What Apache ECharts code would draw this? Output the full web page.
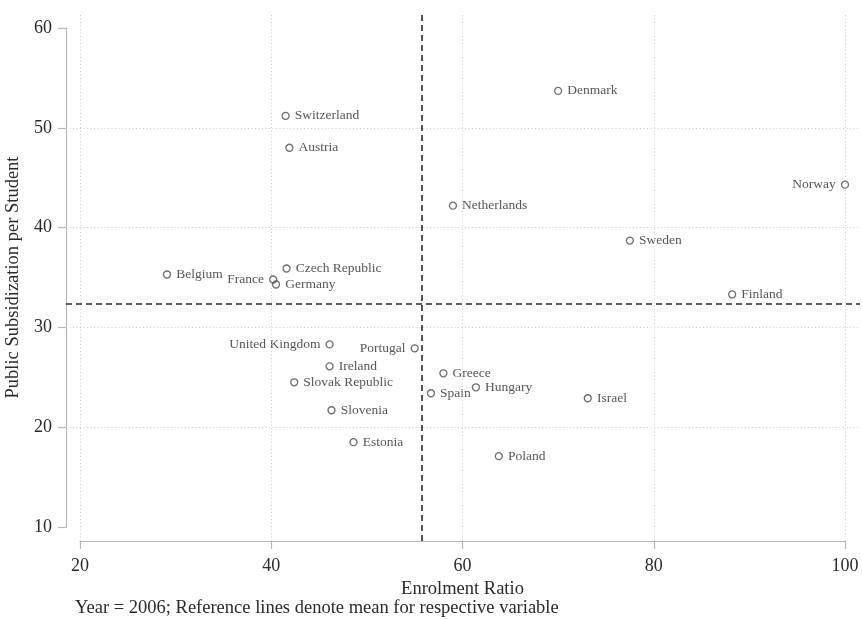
<!DOCTYPE html>
<html>
<head>
<meta charset="utf-8">
<title>Public Subsidization vs Enrolment Ratio</title>
<script src="https://cdn.jsdelivr.net/npm/echarts@6/dist/echarts.min.js"></script>
<style>
  html, body { margin: 0; padding: 0; background: #fff; }
  #chart { width: 862px; height: 619px; }
</style>
</head>
<body>
<div id="chart"></div>
<script>
// Country observations, year 2006
const countries = ['Switzerland', 'Austria', 'Denmark', 'Norway', 'Netherlands', 'Sweden', 'Finland',
  'Belgium', 'Czech Republic', 'France', 'Germany', 'United Kingdom', 'Portugal', 'Ireland',
  'Slovak Republic', 'Slovenia', 'Estonia', 'Greece', 'Spain', 'Hungary', 'Israel', 'Poland'];
const enrolment = [41.5, 41.9, 70.0, 100.0, 59.0, 77.5, 88.2,
  29.1, 41.6, 40.2, 40.5, 46.1, 55.0, 46.1,
  42.4, 46.3, 48.6, 58.0, 56.7, 61.4, 73.1, 63.8];
const subsidy = [51.2, 48.0, 53.7, 44.3, 42.2, 38.7, 33.3,
  35.3, 35.9, 34.8, 34.3, 28.3, 27.9, 26.1,
  24.5, 21.7, 18.5, 25.4, 23.4, 24.0, 22.9, 17.1];

// Axis scales
const xTicks = [20, 40, 60, 80, 100];
const yTicks = [10, 20, 30, 40, 50, 60];
const yGridTicks = [20, 30, 40, 50];

// Labels placed on the left of their marker
const leftLabelled = ['France', 'United Kingdom', 'Portugal', 'Norway'];

const mean = a => a.reduce((s, v) => s + v, 0) / a.length;
const meanX = mean(enrolment);
const meanY = mean(subsidy);

// Layout: outer plot region and the inner region spanned by the tick range
const W = 862, H = 619;
const plot = { left: 66, right: 860, top: 14, bottom: 541 };
const inner = { left: 80, right: 845, top: 28, bottom: 527 };
const xMin = xTicks[0], xMax = xTicks[xTicks.length - 1];
const yMin = yTicks[0], yMax = yTicks[yTicks.length - 1];
const xPerPx = (xMax - xMin) / (inner.right - inner.left);
const yPerPx = (yMax - yMin) / (inner.bottom - inner.top);
const outerX = [xMin - (inner.left - plot.left) * xPerPx, xMax + (plot.right - inner.right) * xPerPx];
const outerY = [yMin - (plot.bottom - inner.bottom) * yPerPx, yMax + (inner.top - plot.top) * yPerPx];

const serif = '"Liberation Serif", "Times New Roman", serif';
const textColor = '#2a2a2a';
const axisColor = '#b8b8b8';

const points = countries.map((c, i) => ({
  name: c,
  value: [enrolment[i], subsidy[i]],
  label: { position: leftLabelled.includes(c) ? 'left' : 'right' }
}));

const chart = echarts.init(document.getElementById('chart'), null, { renderer: 'canvas' });

chart.setOption({
  animation: false,
  backgroundColor: '#fff',
  title: {
    text: 'Year = 2006; Reference lines denote mean for respective variable',
    left: 70, top: 594,
    textStyle: { fontFamily: serif, fontSize: 18.5, fontWeight: 'normal', color: textColor }
  },
  grid: [
    { left: plot.left, right: W - plot.right, top: plot.top, bottom: H - plot.bottom,
      containLabel: false, outerBoundsMode: 'none' },
    { left: inner.left, right: W - inner.right, top: inner.top, bottom: H - inner.bottom,
      containLabel: false, outerBoundsMode: 'none' }
  ],
  xAxis: [
    { type: 'value', gridIndex: 0, min: outerX[0], max: outerX[1], show: false },
    {
      type: 'value', gridIndex: 1, min: xMin, max: xMax, interval: 20, offset: 14,
      name: 'Enrolment Ratio', nameLocation: 'middle', nameGap: 30,
      nameTextStyle: { fontFamily: serif, fontSize: 18.5, color: textColor },
      axisLine: { show: true, lineStyle: { color: axisColor, width: 1.2 } },
      axisTick: { show: true, length: 8, lineStyle: { color: axisColor, width: 1.2 } },
      axisLabel: { fontFamily: serif, fontSize: 18, color: textColor, margin: 16 },
      splitLine: { show: false }
    }
  ],
  yAxis: [
    { type: 'value', gridIndex: 0, min: outerY[0], max: outerY[1], show: false },
    {
      type: 'value', gridIndex: 1, min: yMin, max: yMax, interval: 10, offset: 14,
      name: 'Public Subsidization per Student', nameLocation: 'middle', nameGap: 39,
      nameTextStyle: { fontFamily: serif, fontSize: 18.5, color: textColor },
      axisLine: { show: true, lineStyle: { color: axisColor, width: 1.2 } },
      axisTick: { show: true, length: 8, lineStyle: { color: axisColor, width: 1.2 } },
      axisLabel: { fontFamily: serif, fontSize: 18, color: textColor, margin: 14 },
      splitLine: { show: false }
    }
  ],
  series: [
    {
      // dotted grid lines across the whole plot region
      type: 'scatter', xAxisIndex: 0, yAxisIndex: 0, data: [], silent: true, z: 1,
      markLine: {
        silent: true, symbol: 'none', animation: false,
        label: { show: false },
        lineStyle: { color: '#cccccc', width: 1, type: [1, 2.5] },
        data: xTicks.map(v => ({ xAxis: v })).concat(yGridTicks.map(v => ({ yAxis: v })))
      }
    },
    {
      // mean reference lines
      type: 'scatter', xAxisIndex: 0, yAxisIndex: 0, data: [], silent: true, z: 2,
      markLine: {
        silent: true, symbol: 'none', animation: false,
        label: { show: false },
        lineStyle: { color: '#2a2a2a', width: 1.6, type: [6, 4] },
        data: [{ xAxis: meanX }, { yAxis: meanY }]
      }
    },
    {
      type: 'scatter', xAxisIndex: 1, yAxisIndex: 1, z: 3, clip: false,
      symbol: 'circle', symbolSize: 7,
      itemStyle: { color: 'rgba(0,0,0,0)', borderColor: '#4a4a4a', borderWidth: 1.3 },
      label: {
        show: true, formatter: '{b}', distance: 5,
        fontFamily: serif, fontSize: 13.5, color: textColor
      },
      data: points
    }
  ]
});
</script>
</body>
</html>
